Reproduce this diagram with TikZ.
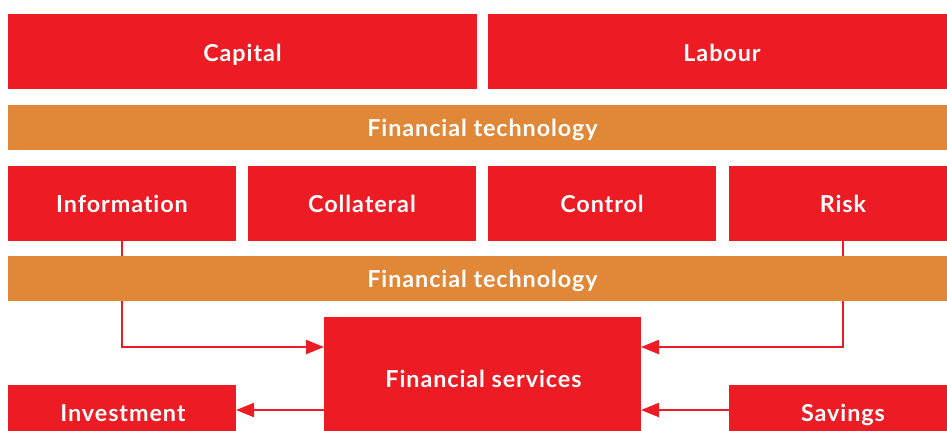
\documentclass[tikz,border=0pt]{standalone}
\usepackage{fontspec}
\setmainfont{Lato}
\newfontfamily\labelfont[LetterSpace=4,Ligatures=NoCommon]{Lato}
\usetikzlibrary{arrows.meta}
\definecolor{fred}{HTML}{ED1C24}
\definecolor{forange}{HTML}{E08837}
\tikzset{
  lbl/.style={text=white, font=\labelfont\bfseries\fontsize{17.5}{20}\selectfont, inner sep=0pt, anchor=base},
  redfill/.style={fill=fred, draw=none},
  bandfill/.style={fill=forange, draw=none},
  link/.style={draw=fred, line width=1.6pt, -{Triangle[length=13.5pt,width=10.5pt]}},
}
\begin{document}
\begin{tikzpicture}[x=0.75pt,y=-0.75pt]
\useasboundingbox (0,0) rectangle (947,430);
\clip (0,0) rectangle (947,430);
% top row
\path[redfill] (8,14) rectangle (477,89);
\node[lbl] (capital) at (242.5,61.5) {Capital};
\path[redfill] (488,14) rectangle (947,89);
\node[lbl] (labour) at (722,61.5) {Labour};
% band 1
\path[bandfill] (8,105) rectangle (947,150);
\node[lbl] (ft1) at (482.5,136.7) {Financial technology};
% middle row
\path[redfill] (8,166) rectangle (236,241);
\node[lbl] (info) at (122,212.5) {Information};
\path[redfill] (248,166) rectangle (476,241);
\node[lbl] (coll) at (362,212.5) {Collateral};
\path[redfill] (488,166) rectangle (716,241);
\node[lbl] (ctrl) at (602,212.5) {Control};
\path[redfill] (729,166) rectangle (947,241);
\node[lbl] (risk) at (843,212.5) {Risk};
\coordinate (infob) at (122,241);
\coordinate (riskb) at (843,241);
\coordinate (infoc) at (122,347);
\coordinate (riskc) at (843,347);
% services
\path[redfill] (324,317) rectangle (641,460);
\node[lbl] (fs) at (483.5,387) {Financial services};
\coordinate (fsl) at (324,347);
\coordinate (fsr) at (641,347);
\coordinate (fsl2) at (324,410);
\coordinate (fsr2) at (641,410);
% bottom row
\path[redfill] (8,385) rectangle (236,460);
\node[lbl] (inv) at (123,421) {Investment};
\path[redfill] (729,385) rectangle (947,460);
\node[lbl] (sav) at (843,421) {Savings};
\coordinate (invr) at (236,410);
\coordinate (savl) at (729,410);
% connectors (behind band 2)
\draw[link] (infob) -- (infoc) -- (fsl);
\draw[link] (riskb) -- (riskc) -- (fsr);
\draw[link] (fsl2) -- (invr);
\draw[link] (savl) -- (fsr2);
% band 2
\path[bandfill] (8,256) rectangle (947,301);
\node[lbl] (ft2) at (482.5,287.7) {Financial technology};
\end{tikzpicture}
\end{document}
